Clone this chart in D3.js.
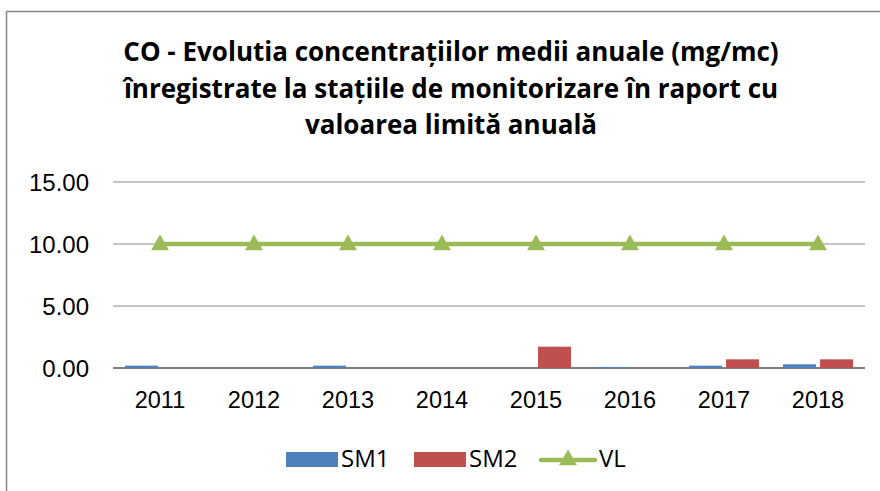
<!DOCTYPE html>
<html>
<head>
<meta charset="utf-8">
<script src="https://cdn.jsdelivr.net/npm/d3@7"></script>
<style>
  body { margin: 0; background: #fff; }
  svg { display: block; font-family: "Open Sans", "Liberation Sans", sans-serif; }
</style>
</head>
<body>
<div id="chart"></div>
<script>
// data
const years = ['2011', '2012', '2013', '2014', '2015', '2016', '2017', '2018'];
const sm1 = [0.19, 0, 0.19, 0, 0, 0.08, 0.19, 0.3];
const sm2 = [0, 0, 0, 0, 1.72, 0, 0.7, 0.7];
const vl = [10, 10, 10, 10, 10, 10, 10, 10];
const yTicks = [0, 5, 10, 15];
const titleLines = [
    'CO - Evolutia concentrațiilor medii anuale (mg/mc)',
    'înregistrate la stațiile de monitorizare în raport cu',
    'valoarea limită anuală'
];

const w = 880;
const h = 491;
const plotLeft = 113, plotRight = 865, plotTop = 182, plotBottom = 368;

const svg = d3.select('#chart')
    .append('svg')
    .attr('width', w)
    .attr('height', h);

// outer frame (runs off the page on the right and bottom)
svg.append('rect')
    .attr('x', 6.5).attr('y', 11.5)
    .attr('width', w + 20).attr('height', h + 20)
    .attr('fill', 'none')
    .attr('stroke', '#868686')
    .attr('stroke-width', 1.5);

const title = svg.append('text')
    .attr('text-anchor', 'middle')
    .attr('font-weight', 'bold')
    .attr('font-size', 26)
    .attr('fill', '#000');
titleLines.forEach((t, i) => {
    title.append('tspan').attr('x', 451).attr('y', 61 + i * 36.5).text(t);
});

const xScale = d3.scaleBand()
    .domain(years)
    .range([plotLeft, plotRight]);

const inner = d3.scaleBand()
    .domain(['sm1', 'sm2'])
    .range([12, xScale.bandwidth() - 12])
    .paddingInner(0.11);

const yScale = d3.scaleLinear()
    .domain([0, 15])
    .range([plotBottom, plotTop]);

// gridlines
svg.append('g')
    .selectAll('line')
    .data(yTicks)
    .enter()
    .append('line')
    .attr('x1', plotLeft).attr('x2', plotRight)
    .attr('y1', d => yScale(d)).attr('y2', d => yScale(d))
    .attr('stroke', d => d === 0 ? '#7f7f7f' : '#8c8c8c')
    .attr('stroke-width', d => d === 0 ? 2 : 1.2);

const yAxis = d3.axisLeft(yScale)
    .tickValues(yTicks)
    .tickFormat(d3.format('.2f'))
    .tickSize(0)
    .tickPadding(0);

svg.append('g')
    .attr('transform', 'translate(' + 89 + ', 0)')
    .call(yAxis)
    .call(g => g.select('.domain').remove())
    .selectAll('text')
    .attr('font-size', 24)
    .attr('font-family', 'inherit')
    .attr('fill', '#000')
    .attr('dy', '0.35em');

const xAxis = d3.axisBottom(xScale).tickSize(0).tickPadding(0);
svg.append('g')
    .attr('transform', 'translate(0, ' + 390 + ')')
    .call(xAxis)
    .call(g => g.select('.domain').remove())
    .selectAll('text')
    .attr('font-size', 23.5)
    .attr('font-family', 'inherit')
    .attr('fill', '#000')
    .attr('dy', '0.75em');

// bars
const series = [
    { key: 'sm1', values: sm1, color: '#4F81BD' },
    { key: 'sm2', values: sm2, color: '#C0504D' }
];
series.forEach(s => {
    svg.append('g')
        .selectAll('rect')
        .data(s.values)
        .enter()
        .append('rect')
        .attr('x', (d, i) => xScale(years[i]) + inner(s.key))
        .attr('width', inner.bandwidth())
        .attr('y', d => yScale(d))
        .attr('height', d => plotBottom - yScale(d))
        .attr('fill', s.color);
});

// VL line
const line = d3.line()
    .x((d, i) => xScale(years[i]) + xScale.bandwidth() / 2)
    .y(d => yScale(d));

svg.append('path')
    .datum(vl)
    .attr('d', line)
    .attr('fill', 'none')
    .attr('stroke', '#9BBB59')
    .attr('stroke-width', 4.5);

const tri = d3.symbol().type(d3.symbolTriangle).size(140);
svg.append('g')
    .selectAll('path')
    .data(vl)
    .enter()
    .append('path')
    .attr('d', tri)
    .attr('transform', (d, i) => 'translate(' + (xScale(years[i]) + xScale.bandwidth() / 2) + ',' + (yScale(d) + 1) + ')')
    .attr('fill', '#9BBB59');

// legend
const legend = svg.append('g').attr('font-size', 24);
legend.append('rect').attr('x', 286).attr('y', 452).attr('width', 52).attr('height', 15).attr('fill', '#4F81BD');
legend.append('text').attr('x', 341).attr('y', 467).text('SM1');
legend.append('rect').attr('x', 414).attr('y', 452).attr('width', 52).attr('height', 15).attr('fill', '#C0504D');
legend.append('text').attr('x', 469).attr('y', 467).text('SM2');
legend.append('line').attr('x1', 541).attr('x2', 595).attr('y1', 460).attr('y2', 460)
    .attr('stroke', '#9BBB59').attr('stroke-width', 4.5).attr('stroke-linecap', 'round');
legend.append('path').attr('d', tri).attr('transform', 'translate(568,460)').attr('fill', '#9BBB59');
legend.append('text').attr('x', 599).attr('y', 467).text('VL');
</script>
</body>
</html>
